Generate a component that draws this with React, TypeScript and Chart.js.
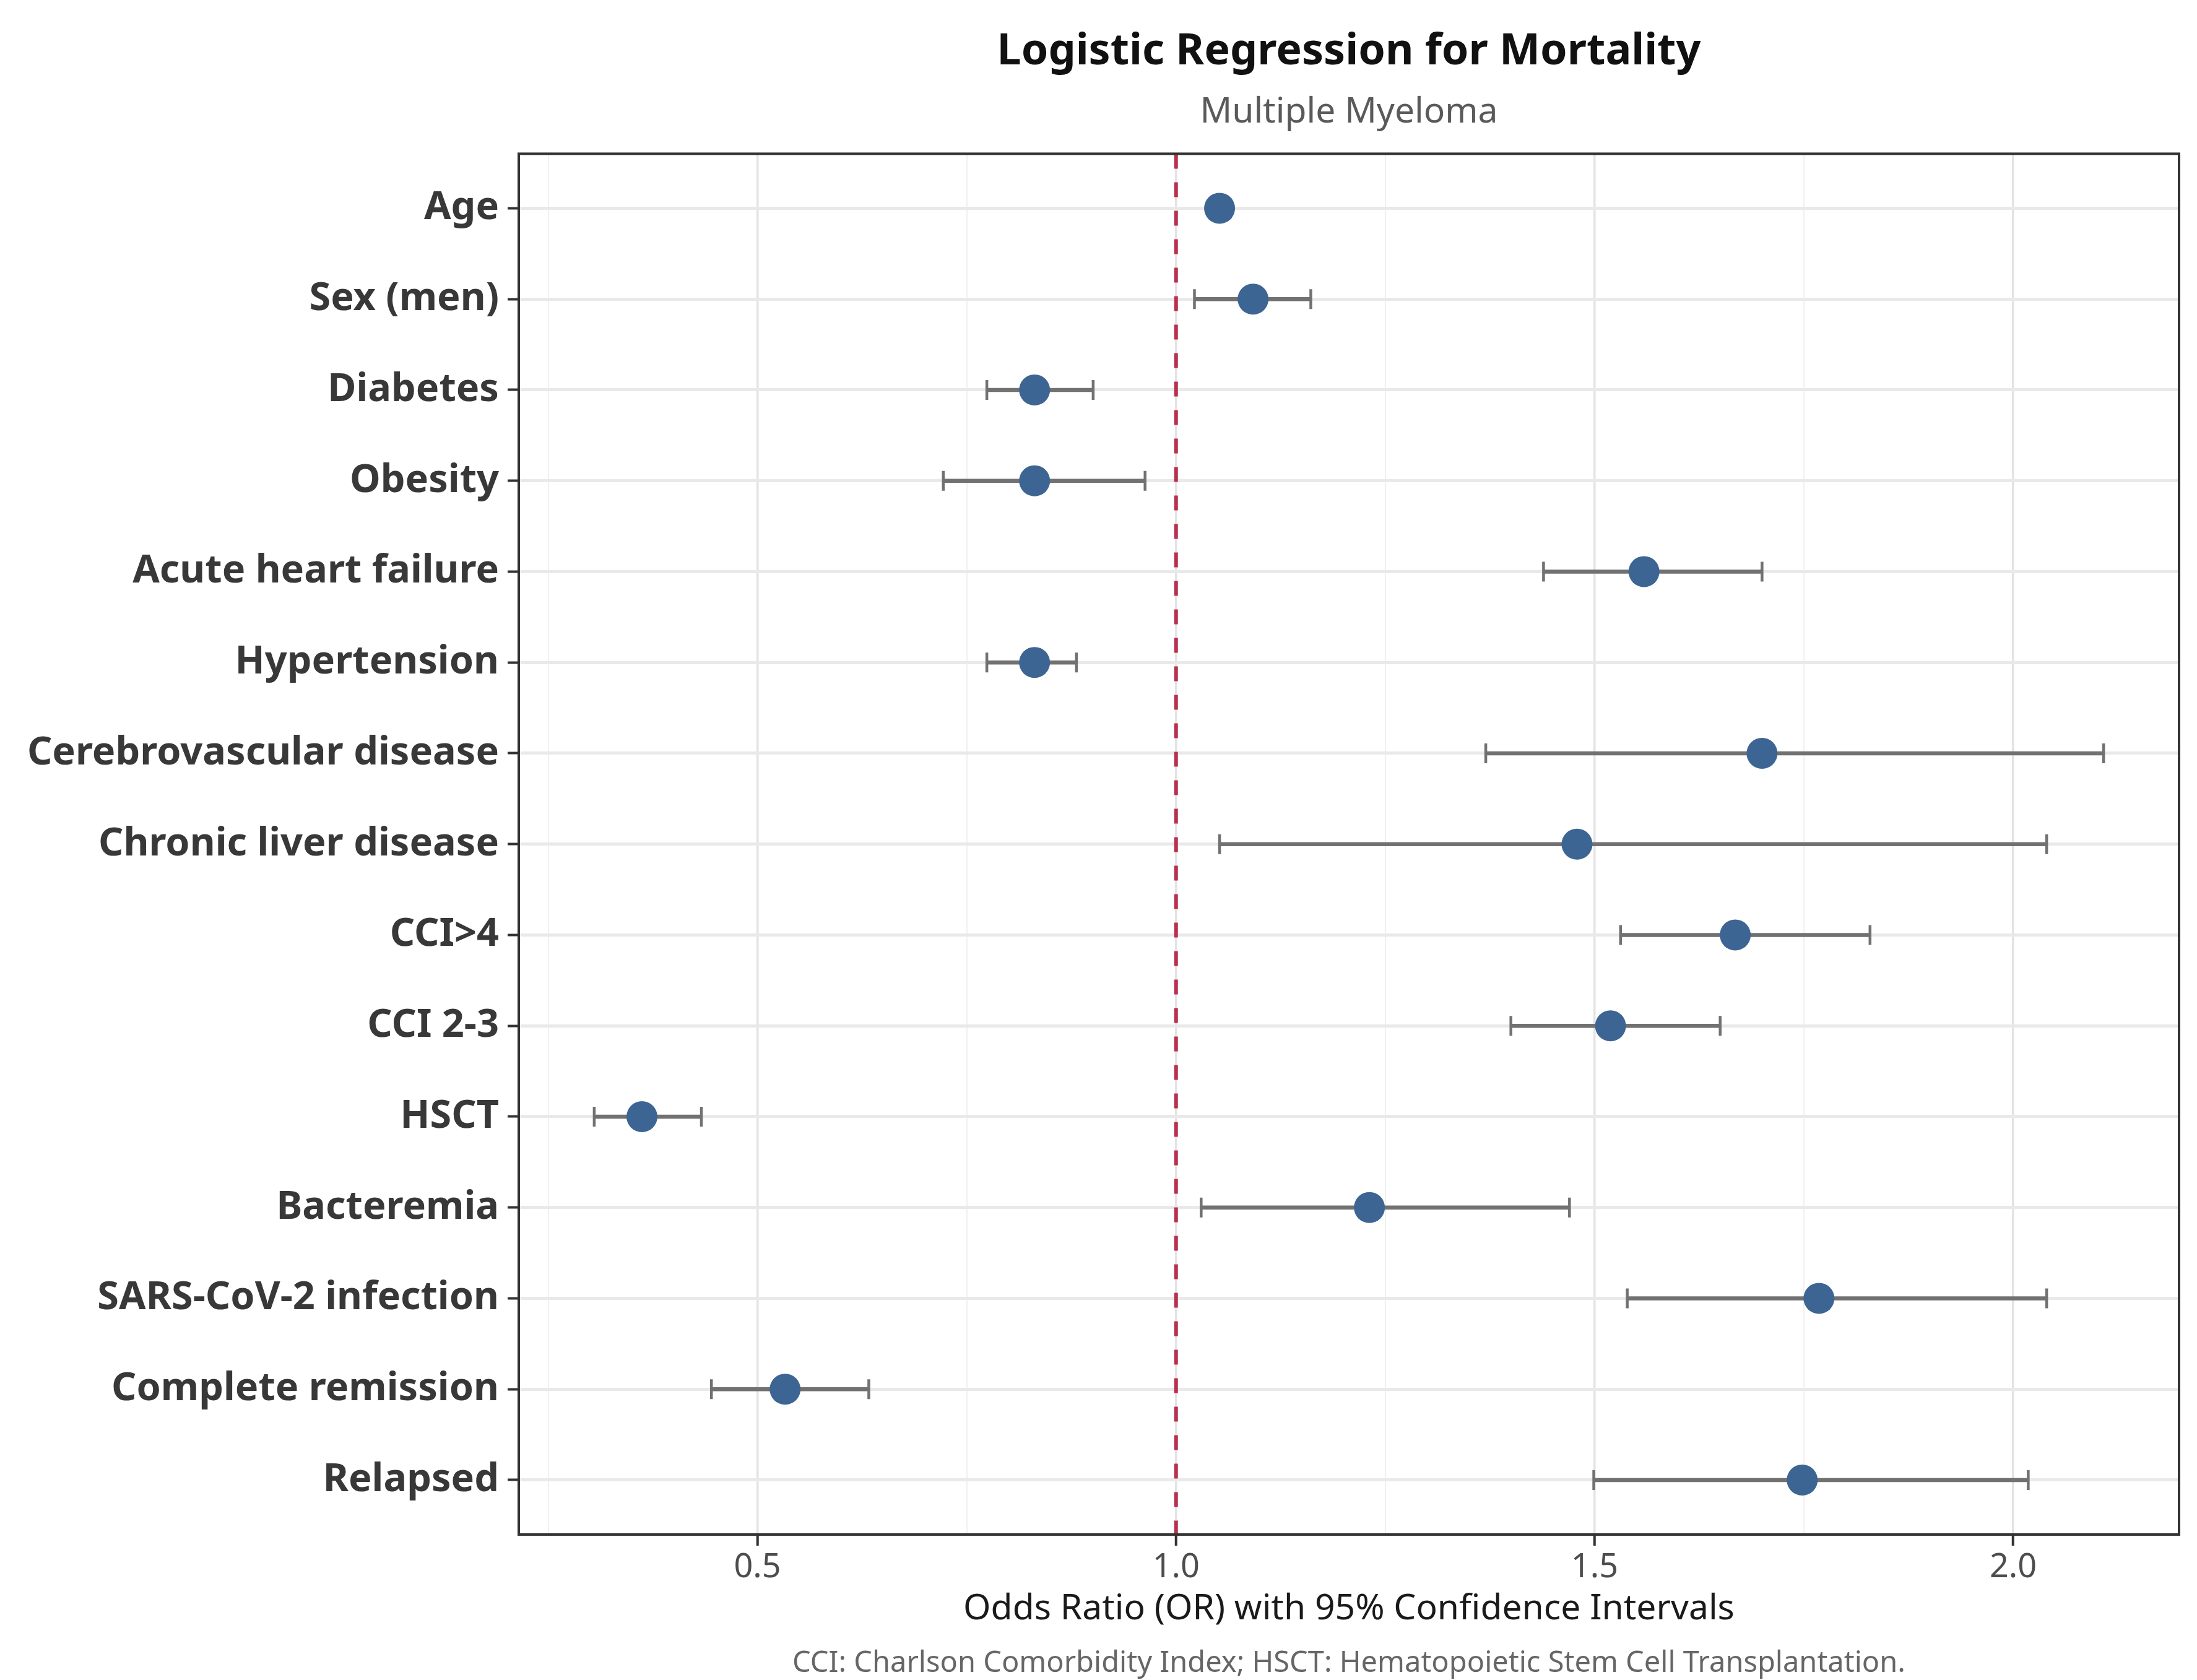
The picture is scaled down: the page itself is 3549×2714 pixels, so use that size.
import React, { useEffect, useRef } from "react";
import { Chart, registerables } from "chart.js";

Chart.register(...registerables);

const categories: string[] = [
  "Age",
  "Sex (men)",
  "Diabetes",
  "Obesity",
  "Acute heart failure",
  "Hypertension",
  "Cerebrovascular disease",
  "Chronic liver disease",
  "CCI>4",
  "CCI 2-3",
  "HSCT",
  "Bacteremia",
  "SARS-CoV-2 infection",
  "Complete remission",
  "Relapsed",
];

const oddsRatio: number[] = [1.052, 1.092, 0.831, 0.831, 1.559, 0.831, 1.70, 1.479, 1.668, 1.519, 0.362, 1.231, 1.768, 0.533, 1.748];
const ciLower: number[] = [1.04, 1.022, 0.774, 0.722, 1.439, 0.774, 1.370, 1.052, 1.531, 1.400, 0.305, 1.030, 1.539, 0.445, 1.499];
const ciUpper: number[] = [1.065, 1.161, 0.901, 0.963, 1.700, 0.881, 2.108, 2.040, 1.829, 1.650, 0.433, 1.470, 2.040, 0.633, 2.018];

const xMajorTicks: number[] = [0.5, 1.0, 1.5, 2.0];
const xMinorTicks: number[] = [0.25, 0.75, 1.25, 1.75];
const referenceLine = 1.0;

const titleText = "Logistic Regression for Mortality";
const subtitleText = "Multiple Myeloma";
const xAxisTitle = "Odds Ratio (OR) with 95% Confidence Intervals";
const captionText = "CCI: Charlson Comorbidity Index; HSCT: Hematopoietic Stem Cell Transplantation.";

const FONT = "'Noto Sans', 'Open Sans', 'DejaVu Sans', sans-serif";

// x range with 5% expansion like ggplot
const dataMin = Math.min(...ciLower);
const dataMax = Math.max(...ciUpper);
const span = dataMax - dataMin;
const xMin = dataMin - 0.05 * span;
const xMax = dataMax + 0.05 * span;

const isMajor = (v: number) => xMajorTicks.some((m) => Math.abs(m - v) < 1e-9);

const forestPlugin = {
  id: "forestExtras",
  beforeDatasetsDraw(chart: any) {
    const { ctx, chartArea, scales } = chart;
    const xs = scales.x;
    const ys = scales.y;
    ctx.save();
    // reference dashed line
    const rx = xs.getPixelForValue(referenceLine);
    ctx.beginPath();
    ctx.setLineDash([24, 22]);
    ctx.lineWidth = 6;
    ctx.strokeStyle = "#B8304F";
    ctx.moveTo(rx, chartArea.top);
    ctx.lineTo(rx, chartArea.bottom);
    ctx.stroke();
    ctx.setLineDash([]);
    // error bars
    ctx.strokeStyle = "#717171";
    for (let i = 0; i < categories.length; i++) {
      const y = ys.getPixelForValue(i);
      const x1 = xs.getPixelForValue(ciLower[i]);
      const x2 = xs.getPixelForValue(ciUpper[i]);
      ctx.lineWidth = 6.5;
      ctx.beginPath();
      ctx.moveTo(x1, y);
      ctx.lineTo(x2, y);
      ctx.stroke();
      ctx.lineWidth = 4.5;
      ctx.beginPath();
      ctx.moveTo(x1, y - 16);
      ctx.lineTo(x1, y + 16);
      ctx.moveTo(x2, y - 16);
      ctx.lineTo(x2, y + 16);
      ctx.stroke();
    }
    ctx.restore();
  },
  afterDatasetsDraw(chart: any) {
    const { ctx, chartArea } = chart;
    ctx.save();
    ctx.lineWidth = 4;
    ctx.strokeStyle = "#333333";
    ctx.strokeRect(chartArea.left, chartArea.top, chartArea.right - chartArea.left, chartArea.bottom - chartArea.top);
    ctx.restore();
  },
  afterDraw(chart: any) {
    const { ctx, chartArea } = chart;
    ctx.save();
    ctx.font = `47px ${FONT}`;
    ctx.fillStyle = "#666666";
    ctx.textAlign = "center";
    ctx.textBaseline = "middle";
    ctx.fillText(captionText, (chartArea.left + chartArea.right) / 2, 2688);
    ctx.restore();
  },
};

export default function App() {
  const canvasRef = useRef<HTMLCanvasElement | null>(null);

  useEffect(() => {
    if (!canvasRef.current) return;
    const chart = new Chart(canvasRef.current, {
      type: "scatter",
      data: {
        datasets: [
          {
            data: oddsRatio.map((v, i) => ({ x: v, y: i })),
            pointRadius: 25,
            pointHoverRadius: 25,
            backgroundColor: "#3D6593",
            borderWidth: 0,
          },
        ],
      },
      options: {
        animation: false,
        responsive: false,
        devicePixelRatio: 1,
        events: [],
        layout: { padding: { left: 0, right: 29, top: 0, bottom: 0 } },
        plugins: {
          legend: { display: false },
          tooltip: { enabled: false },
          title: {
            display: true,
            text: titleText,
            fullSize: false,
            color: "#111111",
            font: { family: FONT, size: 70, weight: "bold", lineHeight: 1.2 },
            padding: { top: 42, bottom: 0 },
          },
          subtitle: {
            display: true,
            text: subtitleText,
            fullSize: false,
            color: "#5a5a5a",
            font: { family: FONT, size: 57, weight: "normal", lineHeight: 1.2 },
            padding: { top: 22, bottom: 32 },
          },
        },
        scales: {
          x: {
            type: "linear",
            min: xMin,
            max: xMax,
            afterBuildTicks: (scale: any) => {
              scale.ticks = [...xMinorTicks, ...xMajorTicks]
                .sort((a, b) => a - b)
                .map((v) => ({ value: v }));
            },
            afterFit: (scale: any) => {
              scale.height = 235;
            },
            ticks: {
              autoSkip: false,
              maxRotation: 0,
              padding: 3,
              color: "#4d4d4d",
              font: { family: FONT, size: 54 },
              callback: (v: any) => (isMajor(Number(v)) ? Number(v).toFixed(1) : ""),
            },
            grid: {
              drawTicks: true,
              tickLength: 18,
              color: (c: any) => (isMajor(c.tick.value) ? "#e3e3e3" : "#f0f0f0"),
              lineWidth: (c: any) => (isMajor(c.tick.value) ? 3.5 : 2),
              tickColor: (c: any) => (isMajor(c.tick.value) ? "#333333" : "rgba(0,0,0,0)"),
              tickWidth: 4,
            },
            border: { display: false },
            title: {
              display: true,
              text: xAxisTitle,
              color: "#1a1a1a",
              font: { family: FONT, size: 57, lineHeight: 1.2 },
              padding: { top: 0, bottom: 80 },
            },
          },
          y: {
            type: "linear",
            min: -0.6,
            max: categories.length - 1 + 0.6,
            reverse: true,
            afterBuildTicks: (scale: any) => {
              scale.ticks = categories.map((_, i) => ({ value: i }));
            },
            afterFit: (scale: any) => {
              scale.width = 838;
            },
            ticks: {
              autoSkip: false,
              padding: 14,
              color: "#383838",
              font: { family: FONT, size: 63, weight: "bold" },
              callback: (v: any) => categories[Math.round(Number(v))] ?? "",
            },
            grid: {
              drawTicks: true,
              tickLength: 18,
              color: "#e9e9e9",
              lineWidth: 5,
              tickColor: "#333333",
              tickWidth: 4,
            },
            border: { display: false },
          },
        },
      },
      plugins: [forestPlugin],
    });
    return () => chart.destroy();
  }, []);

  return (
    <div style={{ position: "absolute", left: 0, top: 0, background: "#ffffff" }}>
      <canvas ref={canvasRef} width={3549} height={2714} style={{ display: "block", width: 3549, height: 2714 }} />
    </div>
  );
}
